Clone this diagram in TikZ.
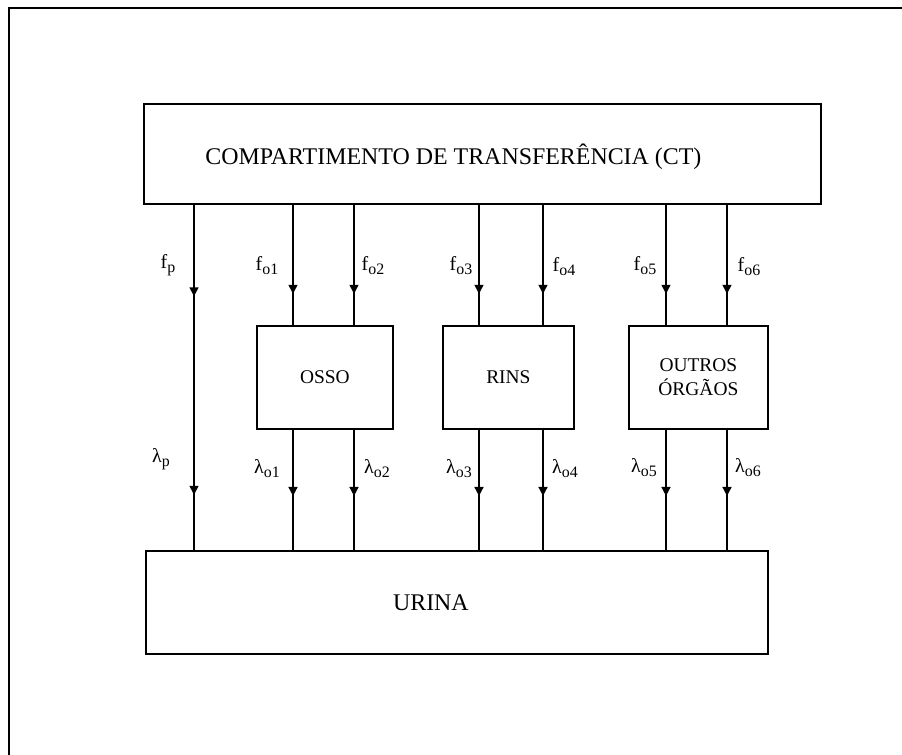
\documentclass[tikz,border=0pt]{standalone}
\usepackage{fontspec}
\setmainfont{Liberation Serif}
\usetikzlibrary{arrows.meta,decorations.markings}
\newcommand{\flab}[2]{#1\raisebox{-0.45ex}{\fontsize{16}{16}\selectfont #2}}
\begin{document}
\begin{tikzpicture}[x=1bp,y=-1bp,
  plainbox/.style={draw,line width=1.8bp,inner sep=0pt,anchor=north west},
  box/.style={plainbox,align=center,font=\fontsize{19.5}{24}\selectfont},
  bigbox/.style={plainbox,font=\fontsize{24}{28}\selectfont},
  flow/.style={line width=1.6bp},
  tipmark/.style={decoration={markings,mark=at position #1 with {\arrow{Triangle[width=9bp,length=9bp]}}},postaction={decorate}},
  twomark/.style 2 args={decoration={markings,
      mark=at position #1 with {\arrow{Triangle[width=9bp,length=9bp]}},
      mark=at position #2 with {\arrow{Triangle[width=9bp,length=9bp]}}},postaction={decorate}},
  lab/.style={inner sep=0pt,font=\fontsize{20}{22}\selectfont}]
\useasboundingbox (0,0) rectangle (902,755);
\fill[white] (0,0) rectangle (902,755);
% frame
\coordinate (fr1) at (902,8);
\coordinate (fr2) at (9,8);
\coordinate (fr3) at (9,755);
\draw[line width=1.8bp] (fr1) -- (fr2) -- (fr3);
% boxes
\node[bigbox,minimum width=677bp,minimum height=100bp,text depth=-6bp] (ct) at (143,103) {COMPARTIMENTO DE TRANSFERÊNCIA (CT)\hspace*{58bp}};
\node[bigbox,minimum width=622bp,minimum height=103bp] (ur) at (145,550) {URINA\hspace*{52bp}};
\node[box,minimum width=136bp,minimum height=103bp] (os) at (256,325) {OSSO};
\node[box,minimum width=131bp,minimum height=103bp] (ri) at (442,325) {RINS};
\node[box,minimum width=139bp,minimum height=103bp] (ou) at (628,325) {OUTROS\\ÓRGÃOS};
% line columns
\coordinate (xp) at (194,0);
\coordinate (x1) at (293,0);
\coordinate (x2) at (354,0);
\coordinate (x3) at (479,0);
\coordinate (x4) at (543,0);
\coordinate (x5) at (666,0);
\coordinate (x6) at (727,0);
% direct path
\draw[flow,twomark={0.265}{0.84}] (xp |- ct.south) -- (xp |- ur.north);
% into organs
\draw[flow,tipmark=0.74] (x1 |- ct.south) -- (x1 |- os.north);
\draw[flow,tipmark=0.74] (x2 |- ct.south) -- (x2 |- os.north);
\draw[flow,tipmark=0.74] (x3 |- ct.south) -- (x3 |- ri.north);
\draw[flow,tipmark=0.74] (x4 |- ct.south) -- (x4 |- ri.north);
\draw[flow,tipmark=0.74] (x5 |- ct.south) -- (x5 |- ou.north);
\draw[flow,tipmark=0.74] (x6 |- ct.south) -- (x6 |- ou.north);
% out of organs
\draw[flow,tipmark=0.55] (x1 |- os.south) -- (x1 |- ur.north);
\draw[flow,tipmark=0.55] (x2 |- os.south) -- (x2 |- ur.north);
\draw[flow,tipmark=0.55] (x3 |- ri.south) -- (x3 |- ur.north);
\draw[flow,tipmark=0.55] (x4 |- ri.south) -- (x4 |- ur.north);
\draw[flow,tipmark=0.55] (x5 |- ou.south) -- (x5 |- ur.north);
\draw[flow,tipmark=0.55] (x6 |- ou.south) -- (x6 |- ur.north);
% labels f
\node[lab] (lfp) at (168,265) {\flab{f}{p}};
\node[lab] (lf1) at (267,266) {\flab{f}{o1}};
\node[lab] (lf2) at (373,266) {\flab{f}{o2}};
\node[lab] (lf3) at (461,266) {\flab{f}{o3}};
\node[lab] (lf4) at (564,267) {\flab{f}{o4}};
\node[lab] (lf5) at (645,266) {\flab{f}{o5}};
\node[lab] (lf6) at (749,267) {\flab{f}{o6}};
% labels lambda
\node[lab] (llp) at (161,459) {\flab{λ}{p}};
\node[lab] (ll1) at (267,469) {\flab{λ}{o1}};
\node[lab] (ll2) at (377,469) {\flab{λ}{o2}};
\node[lab] (ll3) at (459,469) {\flab{λ}{o3}};
\node[lab] (ll4) at (565,469) {\flab{λ}{o4}};
\node[lab] (ll5) at (644,468) {\flab{λ}{o5}};
\node[lab] (ll6) at (748,468) {\flab{λ}{o6}};
\end{tikzpicture}
\end{document}
